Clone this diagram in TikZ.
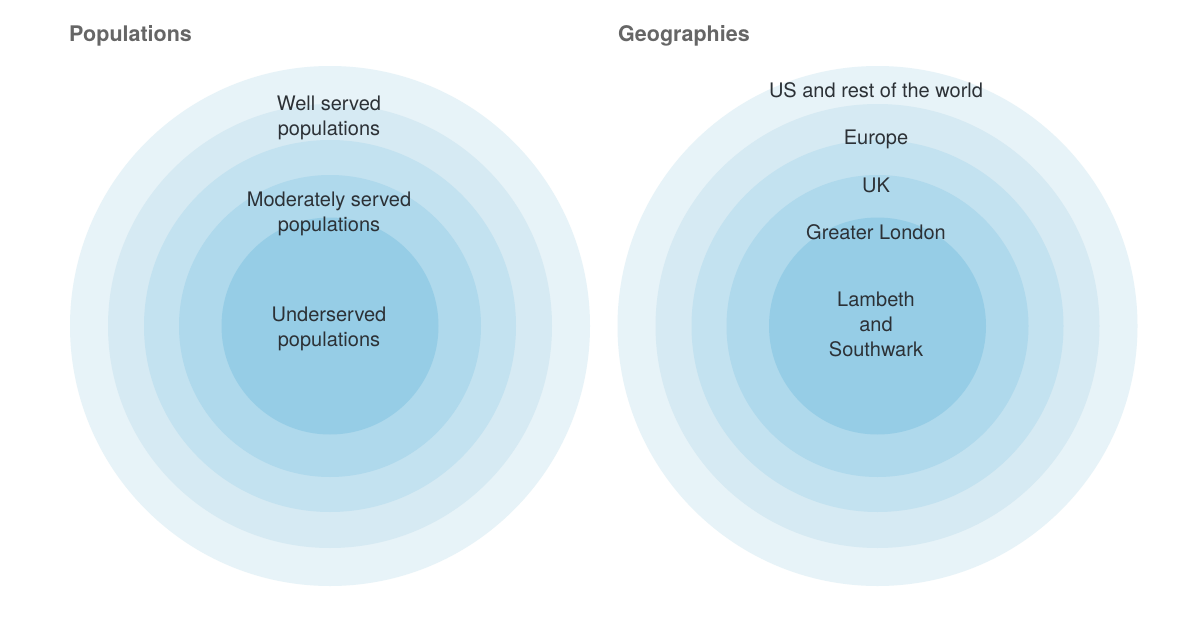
\documentclass[tikz,border=0pt]{standalone}
\usepackage{fontspec}
\setmainfont{TeX Gyre Heros}
\usetikzlibrary{positioning}

\definecolor{ringOne}{HTML}{E7F3F8}
\definecolor{ringTwo}{HTML}{D6EAF3}
\definecolor{ringThree}{HTML}{C3E2F0}
\definecolor{ringFour}{HTML}{AFD9EC}
\definecolor{ringFive}{HTML}{96CDE6}
\definecolor{titlegray}{HTML}{666666}
\definecolor{labelgray}{HTML}{2C3136}

\begin{document}
\begin{tikzpicture}[x=1pt,y=-1pt,
title/.style={font=\fontsize{21.5}{25}\selectfont\bfseries,text=titlegray,anchor=base west,inner sep=0pt},
ring/.style={draw=none},
lbl/.style={font=\fontsize{20}{25}\selectfont,text=labelgray,align=center,inner sep=0pt}]

\useasboundingbox[fill=white] (0,0) rectangle (1200,621);

% populations rings
\fill[ring,ringOne]   (330,326) circle (260);
\fill[ring,ringTwo]   (330,326) circle (222);
\fill[ring,ringThree] (330,326) circle (186);
\fill[ring,ringFour]  (330,326) circle (151);
\fill[ring,ringFive]  (330,326) circle (108.5);

% geographies rings
\fill[ring,ringOne]   (877.5,326) circle (260);
\fill[ring,ringTwo]   (877.5,326) circle (222);
\fill[ring,ringThree] (877.5,326) circle (186);
\fill[ring,ringFour]  (877.5,326) circle (151);
\fill[ring,ringFive]  (877.5,326) circle (108.5);

\node[title](popTitle) at (69,41) {Populations};
\node[title](geoTitle) at (618,41) {Geographies};

\node[lbl](wellServed) at (329,117.5) {Well served\\populations};
\node[lbl](modServed) at (329,213.5) {Moderately served\\populations};
\node[lbl](underServed) at (329,328.5) {Underserved\\populations};

\node[lbl](world) at (876,90) {US and rest of the world};
\node[lbl](europe) at (876,139) {Europe};
\node[lbl](uk) at (876,185) {UK};
\node[lbl](london) at (876,232) {Greater London};
\node[lbl](lambeth) at (876,324) {Lambeth\\and\\Southwark};
\end{tikzpicture}
\end{document}
